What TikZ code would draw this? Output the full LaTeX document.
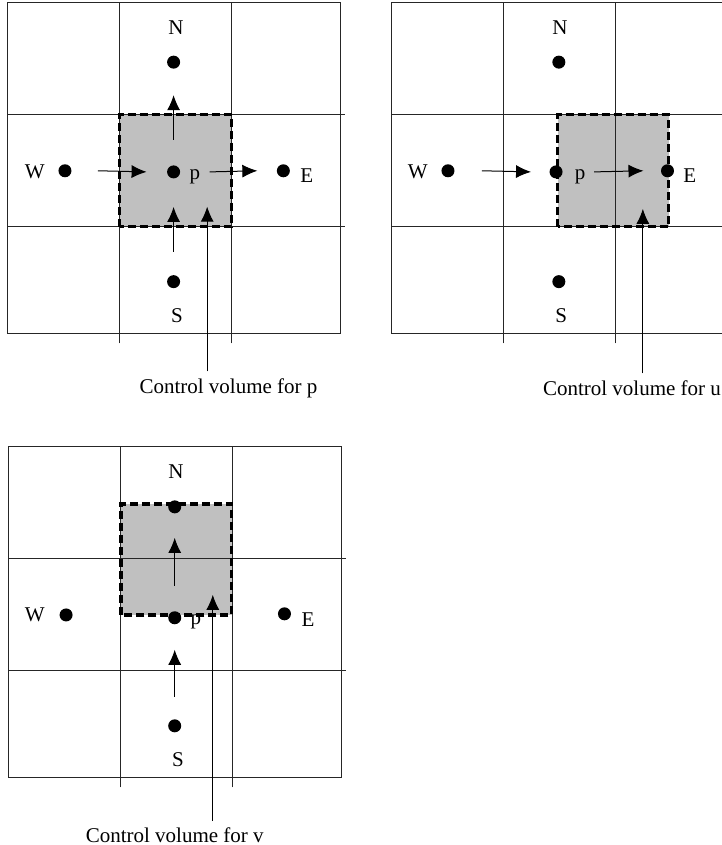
\documentclass[tikz,border=0pt]{standalone}
\usepackage{fontspec}
\setmainfont{Liberation Serif}
\usetikzlibrary{arrows.meta}
\definecolor{kvgrau}{RGB}{192,192,192}

\tikzset{
  gitter/.style={line width=0.5pt, color=black!85},
  kv/.style={fill=kvgrau},
  kvrand/.style={line width=1.6pt, dash pattern=on 4pt off 2pt},
  punkt/.style={circle, fill=black, inner sep=0pt, minimum size=6.5pt},
  fluss/.style={->, line width=0.5pt},
  lbl/.style={inner sep=0pt},
}
% Raster einer Zelle 3x3
\newcommand{\kvgitter}{%
  \draw[gitter] (0,0.05) rectangle (2.97,3);
  \foreach \x in {1,2} \draw[gitter] (\x,-0.04) -- (\x,3);
  \foreach \y in {1,2} \draw[gitter] (0,\y) -- (3.01,\y);
}

\begin{document}
\begin{tikzpicture}[x=56pt, y=56pt, >={Latex[length=7.5pt,width=6.5pt]}, font=\fontsize{10.5}{12}\selectfont]
  \useasboundingbox (0,0) rectangle (6.446,7.545);
  % Kontrollvolumen fuer p
  \begin{scope}[shift={(0.07,4.52)}]
    \fill[kv] (1,1) rectangle (2,2);
    \kvgitter
    \draw[kvrand] (1,1) rectangle (2,2);
    % Punkte
    \node[punkt] (N1) at (1.48,2.47) {};
    \node[punkt] (P1) at (1.48,1.49) {};
    \node[punkt] (W1) at (0.51,1.5) {};
    \node[punkt] (E1) at (2.46,1.5) {};
    \node[punkt] (S1) at (1.48,0.51) {};
    % Beschriftung
    \node[lbl] (N1l) at (1.5,2.78) {N};
    \node[lbl] (P1l) at (1.67,1.45) {p};
    \node[lbl] (W1l) at (0.24,1.49) {W};
    \node[lbl] (E1l) at (2.67,1.46) {E};
    \node[lbl] (S1l) at (1.51,0.21) {S};
    % Pfeile
    \draw[fluss] ([xshift=16.5pt]W1.center) -- ([xshift=-13.5pt]P1.center);
    \draw[fluss] ([xshift=18pt]P1.center) -- ([xshift=-13pt]E1.center);
    \draw[fluss] ([yshift=16pt]P1.center) -- ([yshift=-16.5pt]N1.center);
    \draw[fluss] ([yshift=15pt]S1.center) -- ([yshift=-17.5pt]P1.center);
    \coordinate (cv1) at (1.78,1.18);
    \node (cvl1) at (1.97,-0.44) {Control volume for p};
    \draw[fluss] (cvl1.north -| cv1) -- (cv1);
  \end{scope}
  % Kontrollvolumen fuer u
  \begin{scope}[shift={(3.5,4.52)}]
    \fill[kv] (1.48,1) rectangle (2.47,2);
    \kvgitter
    \draw[kvrand] (1.48,1) rectangle (2.47,2);
    % Punkte
    \node[punkt] (N2) at (1.49,2.47) {};
    \node[punkt] (P2) at (1.465,1.49) {};
    \node[punkt] (W2) at (0.5,1.5) {};
    \node[punkt] (E2) at (2.46,1.5) {};
    \node[punkt] (S2) at (1.49,0.51) {};
    % Beschriftung
    \node[lbl] (N2l) at (1.5,2.78) {N};
    \node[lbl] (P2l) at (1.68,1.45) {p};
    \node[lbl] (W2l) at (0.23,1.49) {W};
    \node[lbl] (E2l) at (2.66,1.46) {E};
    \node[lbl] (S2l) at (1.51,0.21) {S};
    % Pfeile
    \draw[fluss] ([xshift=17pt]W2.center) -- ([xshift=-12.5pt]P2.center);
    \draw[fluss] ([xshift=19pt]P2.center) -- ([xshift=-12pt]E2.center);
    \coordinate (cv2) at (2.24,1.16);
    \node (cvl2) at (2.143,-0.44) {Control volume for u};
    \draw[fluss] (cvl2.north -| cv2) -- (cv2);
  \end{scope}
  % Kontrollvolumen fuer v
  \begin{scope}[shift={(0.08,0.554)}]
    \fill[kv] (1,1.5) rectangle (1.99,2.49);
    \kvgitter
    \draw[kvrand] (1,1.5) rectangle (1.99,2.49);
    % Punkte
    \node[punkt] (N3) at (1.48,2.465) {};
    \node[punkt] (P3) at (1.48,1.475) {};
    \node[punkt] (W3) at (0.51,1.5) {};
    \node[punkt] (E3) at (2.46,1.51) {};
    \node[punkt] (S3) at (1.48,0.51) {};
    % Beschriftung
    \node[lbl] (N3l) at (1.49,2.78) {N};
    \node[lbl] (P3l) at (1.67,1.44) {p};
    \node[lbl] (W3l) at (0.23,1.5) {W};
    \node[lbl] (E3l) at (2.67,1.46) {E};
    \node[lbl] (S3l) at (1.51,0.205) {S};
    % Pfeile
    \draw[fluss] ([yshift=16pt]P3.center) -- ([yshift=-15.5pt]N3.center);
    \draw[fluss] ([yshift=14.5pt]S3.center) -- ([yshift=-16pt]P3.center);
    \coordinate (cv3) at (1.82,1.68);
    \node (cvl3) at (1.48,-0.47) {Control volume for v};
    \draw[fluss] (cvl3.north -| cv3) -- (cv3);
  \end{scope}
\end{tikzpicture}
\end{document}
